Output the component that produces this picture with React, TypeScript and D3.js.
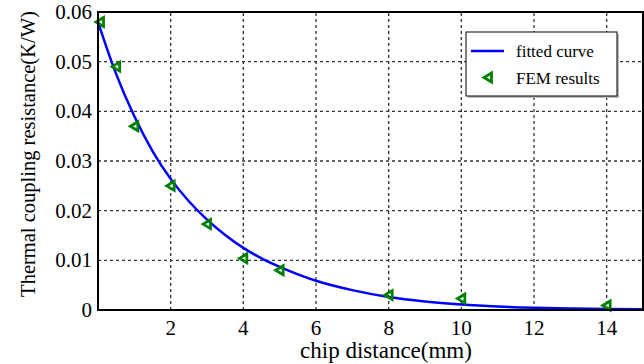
import React, { useEffect, useRef } from 'react'
import { select, scaleLinear, line, curveMonotoneX } from 'd3'

// fitted curve
const curveX = [0, 0.5, 1, 1.5, 2, 2.5, 3, 3.5, 4, 4.5, 5, 6, 7, 8, 9, 10, 11, 12, 13, 14, 15]
const curveY = [0.058, 0.0475, 0.039, 0.032, 0.0264, 0.0219, 0.0182, 0.0151, 0.0125, 0.0104, 0.0087, 0.0059, 0.004, 0.0026, 0.0017, 0.0011, 0.0007, 0.00045, 0.0003, 0.0002, 0.00013]

// FEM points
const femX = [0, 0.5, 1, 2, 3, 4, 5, 8, 10, 14]
const femY = [0.058, 0.049, 0.037, 0.025, 0.0173, 0.0104, 0.008, 0.003, 0.0023, 0.0009]

const xTicks = [2, 4, 6, 8, 10, 12, 14]
const yTicks = [0, 0.01, 0.02, 0.03, 0.04, 0.05, 0.06]
const yTickLabels = ['0', '0.01', '0.02', '0.03', '0.04', '0.05', '0.06']

const W = 644
const H = 364
const FONT = '"Liberation Serif", "Times New Roman", serif'
const tri = 'M-4,0 L3.5,-4.5 L3.5,4.5 Z'

const App = () => {
  const svgRef = useRef<SVGSVGElement>(null)

  useEffect(() => {
    const svg = select(svgRef.current)
    svg.selectAll('*').remove()

    const x = scaleLinear().domain([0, 15]).range([98, 643])
    const y = scaleLinear().domain([0, 0.06]).range([310, 12])

    // grid
    const grid = svg.append('g')
      .attr('stroke', '#333')
      .attr('stroke-width', 1.3)
      .attr('stroke-dasharray', '3,3')
    grid.selectAll('.gx')
      .data(xTicks)
      .join('line')
      .attr('x1', d => x(d)).attr('x2', d => x(d))
      .attr('y1', y(0)).attr('y2', y(0.06))
    grid.selectAll('.gy')
      .data(yTicks.slice(1, -1))
      .join('line')
      .attr('x1', x(0)).attr('x2', x(15))
      .attr('y1', d => y(d)).attr('y2', d => y(d))

    // fitted curve
    const pts = curveX.map((v, i) => [v, curveY[i]] as [number, number])
    svg.append('path')
      .datum(pts)
      .attr('fill', 'none')
      .attr('stroke', '#0000ff')
      .attr('stroke-width', 2.5)
      .attr('d', line<[number, number]>().x(d => x(d[0])).y(d => y(d[1])).curve(curveMonotoneX))

    // FEM markers
    svg.selectAll('.fem')
      .data(femX)
      .join('path')
      .attr('transform', (d, i) => `translate(${x(d) + (d === 0 ? 2 : 0)},${y(femY[i])})`)
      .attr('d', tri)
      .attr('fill', 'none')
      .attr('stroke', '#008000')
      .attr('stroke-width', 2.8)
      .attr('stroke-linejoin', 'miter')

    // axes box
    svg.append('rect')
      .attr('x', x(0)).attr('y', y(0.06))
      .attr('width', x(15) - x(0)).attr('height', y(0) - y(0.06))
      .attr('fill', 'none')
      .attr('stroke', '#000')
      .attr('stroke-width', 2)

    // tick labels
    svg.selectAll('.xt')
      .data(xTicks)
      .join('text')
      .attr('x', d => x(d))
      .attr('y', 335)
      .attr('text-anchor', 'middle')
      .attr('font-family', FONT)
      .attr('font-size', 21)
      .text(d => d)
    svg.selectAll('.yt')
      .data(yTicks)
      .join('text')
      .attr('x', 92)
      .attr('y', d => y(d) + 7)
      .attr('text-anchor', 'end')
      .attr('font-family', FONT)
      .attr('font-size', 21)
      .text((d, i) => yTickLabels[i])

    // axis titles
    svg.append('text')
      .attr('x', 386)
      .attr('y', 358)
      .attr('text-anchor', 'middle')
      .attr('font-family', FONT)
      .attr('font-size', 23)
      .text('chip distance(mm)')
    svg.append('text')
      .attr('transform', 'translate(35,154) rotate(-90)')
      .attr('text-anchor', 'middle')
      .attr('font-family', FONT)
      .attr('font-size', 20.5)
      .text('Thermal coupling resistance(K/W)')

    // legend
    const lg = svg.append('g')
    lg.append('rect')
      .attr('x', 468).attr('y', 34).attr('width', 151).attr('height', 64)
      .attr('fill', '#bbb')
    lg.append('rect')
      .attr('x', 466).attr('y', 32).attr('width', 151).attr('height', 64)
      .attr('fill', '#fff')
      .attr('stroke', '#000')
      .attr('stroke-width', 1)
    lg.append('line')
      .attr('x1', 471).attr('x2', 504).attr('y1', 51).attr('y2', 51)
      .attr('stroke', '#0000ff').attr('stroke-width', 2.5)
    lg.append('path')
      .attr('transform', 'translate(488,77.5)')
      .attr('d', tri)
      .attr('fill', 'none')
      .attr('stroke', '#008000')
      .attr('stroke-width', 2.8)
    lg.append('text')
      .attr('x', 516).attr('y', 57)
      .attr('font-family', FONT).attr('font-size', 17)
      .text('fitted curve')
    lg.append('text')
      .attr('x', 516).attr('y', 84)
      .attr('font-family', FONT).attr('font-size', 17)
      .text('FEM results')
  }, [])

  return (
    <svg ref={svgRef} width={W} height={H}
      style={{ position: 'absolute', left: 0, top: 0, background: '#fff' }} />
  )
}

export default App
